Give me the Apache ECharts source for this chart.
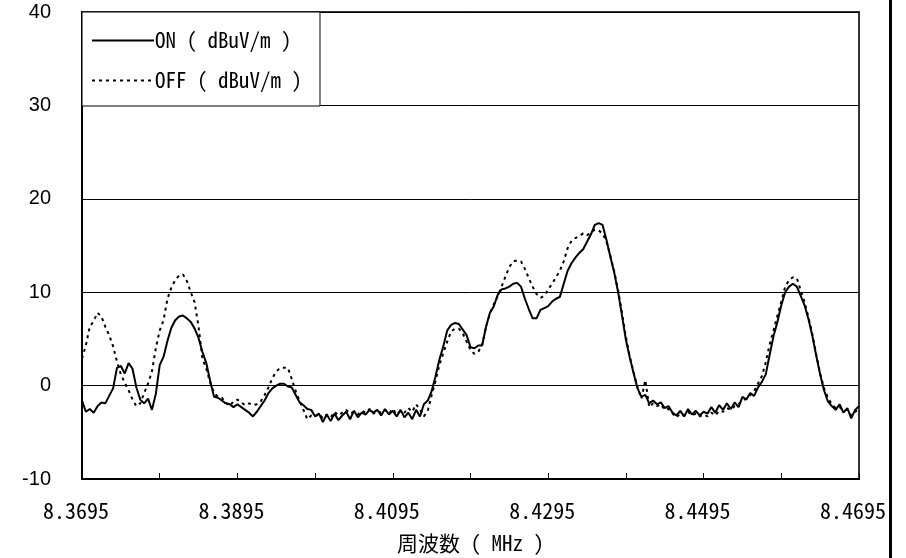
<!DOCTYPE html>
<html><head><meta charset="utf-8">
<script src="https://cdn.jsdelivr.net/npm/echarts@6/dist/echarts.min.js"></script>
<style>html,body{margin:0;padding:0;background:#fff}#c{width:906px;height:558px}</style>
</head><body><div id="c"></div>
<script>
const seriesNames = ['ON ( dBuV/m )', 'OFF ( dBuV/m )'];
const xAxisTitle = '周波数 ( MHz )';
const xTickLabels = ['8.3695', '8.3895', '8.4095', '8.4295', '8.4495', '8.4695'];
const sampleStepKHz = 0.5; // sweep step between samples (offset from 8.3695 MHz)

const onValues = [
 -1.6,-2.8,-2.5,-2.9,-2.2,-1.8,-1.9,-1.1,-0.3,1.9,
 2.1,1.3,2.4,1.8,-0.2,-1.5,-1.9,-1.4,-2.6,-0.9,
 2.2,3.1,4.8,6.2,7.0,7.4,7.5,7.2,6.8,6.1,
 5.1,3.6,2.4,0.5,-1.2,-1.3,-1.6,-1.9,-2.0,-2.3,
 -2.0,-2.3,-2.6,-2.9,-3.3,-2.8,-2.2,-1.6,-0.8,-0.3,
 0.0,0.2,0.2,-0.1,-0.2,-1.0,-1.8,-2.1,-2.5,-2.6,
 -3.3,-3.0,-3.9,-3.1,-3.8,-3.0,-3.7,-3.2,-2.8,-3.6,
 -2.7,-3.4,-2.9,-3.1,-2.6,-2.9,-2.6,-3.2,-2.5,-3.1,
 -2.7,-3.3,-2.6,-3.4,-2.9,-3.6,-2.6,-3.3,-2.0,-1.6,
 -0.6,1.0,2.8,4.2,5.9,6.5,6.7,6.6,6.0,5.4,
 4.1,4.0,4.3,4.3,6.3,7.8,8.5,9.7,10.3,10.4,
 10.6,10.9,11.0,10.6,9.3,8.2,7.2,7.2,8.1,8.3,
 8.5,9.0,9.3,9.5,10.9,12.3,13.1,13.7,14.2,14.6,
 15.4,16.2,17.2,17.4,17.2,15.6,13.8,12.1,10.0,7.5,
 4.9,3.0,1.3,-0.3,-1.2,-1.0,-1.9,-1.6,-2.0,-1.8,
 -2.4,-2.2,-2.9,-3.2,-2.7,-3.3,-2.5,-3.1,-2.7,-3.2,
 -2.8,-3.0,-2.3,-2.9,-2.1,-2.6,-1.9,-2.5,-1.8,-2.3,
 -1.2,-1.5,-0.8,-1.1,-0.2,0.4,1.2,3.3,5.3,6.8,
 8.6,10.0,10.6,10.9,10.6,9.6,8.6,7.1,5.3,3.2,
 1.2,-0.5,-1.7,-2.2,-2.6,-2.0,-2.9,-2.4,-3.5,-2.6,
 -2.2
];

const offValues = [
 2.9,4.3,6.3,6.9,7.8,7.4,6.3,5.4,4.2,2.6,
 1.2,0.3,-0.5,-1.5,-2.2,-1.9,-0.8,0.2,1.5,4.0,
 5.9,7.0,9.3,10.5,11.3,11.8,11.9,11.2,10.0,8.9,
 6.3,2.9,1.8,0.3,-0.8,-1.2,-1.3,-1.8,-2.2,-1.7,
 -1.5,-1.8,-2.1,-1.9,-2.1,-2.0,-1.7,-1.0,-0.2,0.8,
 1.5,1.9,1.9,1.9,0.7,-0.6,-1.6,-2.6,-3.6,-3.2,
 -3.3,-3.0,-3.5,-3.1,-3.4,-2.8,-3.2,-2.9,-2.6,-3.0,
 -2.8,-3.1,-2.7,-2.9,-2.5,-3.0,-2.7,-2.9,-2.6,-3.0,
 -2.5,-3.1,-2.7,-2.9,-2.4,-2.8,-2.0,-2.6,-3.3,-2.7,
 -1.0,0.5,2.2,3.5,4.7,5.8,6.1,6.1,5.6,4.7,
 3.8,3.4,3.6,4.4,6.3,7.7,8.7,9.6,10.6,11.7,
 12.7,13.3,13.4,13.3,12.5,11.5,10.6,9.8,9.4,9.6,
 10.3,10.9,11.6,12.3,13.3,14.7,15.5,15.8,16.0,16.3,
 16.1,16.4,16.7,16.6,16.3,15.4,13.9,12.2,10.2,7.8,
 5.2,3.1,1.4,-0.2,-1.4,0.6,-2.3,-1.9,-2.2,-2.0,
 -2.6,-2.5,-3.0,-3.4,-3.0,-3.2,-2.8,-3.2,-3.0,-3.3,
 -3.1,-3.3,-2.9,-3.2,-2.7,-2.8,-2.4,-2.6,-2.2,-2.0,
 -1.6,-1.4,-1.0,-0.6,0.2,1.0,2.5,4.4,5.9,7.5,
 9.0,10.6,11.3,11.6,11.5,10.2,8.9,7.3,5.5,3.3,
 1.3,-0.3,-1.3,-2.0,-2.4,-2.3,-2.7,-2.6,-3.2,-2.8,
 -2.5
];

const monoFont = '"Noto Sans Mono CJK JP", "DejaVu Sans Mono", monospace';
const cjkFont = '"Noto Sans Mono CJK JP", "Noto Sans CJK JP", sans-serif';

const chart = echarts.init(document.getElementById('c'), null, {renderer: 'canvas'});
chart.setOption({
  animation: false,
  backgroundColor: '#fff',
  grid: {left: 82, right: 47, top: 12, bottom: 79, outerBoundsMode: 'none', containLabel: false,
         show: true, borderColor: '#333', borderWidth: 2, backgroundColor: 'transparent'},
  legend: {
    orient: 'vertical', left: 82, top: 12,
    padding: [18, 18, 15, 9], itemGap: 19, itemWidth: 62, itemHeight: 24,
    backgroundColor: '#fff', borderColor: '#000', borderWidth: 1,
    itemStyle: {opacity: 0, color: 'transparent', borderColor: 'transparent', borderWidth: 0},
    textStyle: {color: '#000', fontSize: 21, fontFamily: cjkFont, padding: [0, 0, 0, -4]},
    data: seriesNames
  },
  xAxis: {
    type: 'value', min: 0, max: 100, interval: 10,
    name: xAxisTitle, nameLocation: 'middle', nameGap: 54,
    nameTextStyle: {color: '#000', fontSize: 21, fontFamily: cjkFont},
    axisLine: {show: true, onZero: false, lineStyle: {color: '#000', width: 2}},
    axisTick: {show: true, inside: true, length: 6, lineStyle: {color: '#000', width: 1}},
    splitLine: {show: false},
    axisLabel: {
      color: '#000', fontSize: 22, fontFamily: monoFont, margin: 21, padding: [0, 12, 0, 0],
      showMinLabel: true, showMaxLabel: true,
      formatter: v => (Math.round(v) % 20 === 0 ? xTickLabels[Math.round(v) / 20] : '')
    }
  },
  yAxis: {
    type: 'value', min: -10, max: 40, interval: 10,
    axisLine: {show: true, lineStyle: {color: '#000', width: 2}},
    axisTick: {show: false},
    splitLine: {show: true, lineStyle: {color: '#000', width: 1}},
    axisLabel: {color: '#000', fontSize: 20, fontFamily: '"Liberation Sans", Arial, sans-serif', margin: 31}
  },
  series: [
    {name: seriesNames[0], type: 'line', symbol: 'none', z: 3,
     lineStyle: {color: '#000', width: 2},
     itemStyle: {color: '#000'},
     data: onValues.map((v, i) => [i * sampleStepKHz, v])},
    {name: seriesNames[1], type: 'line', symbol: 'none', z: 2,
     lineStyle: {color: '#000', width: 2, type: [3, 4]},
     itemStyle: {color: '#000'},
     data: offValues.map((v, i) => [i * sampleStepKHz, v])}
  ],
  graphic: [
    {type: 'rect', shape: {x: 889, y: 0, width: 3, height: 558}, style: {fill: '#000'}, silent: true}
  ]
});
</script></body></html>
